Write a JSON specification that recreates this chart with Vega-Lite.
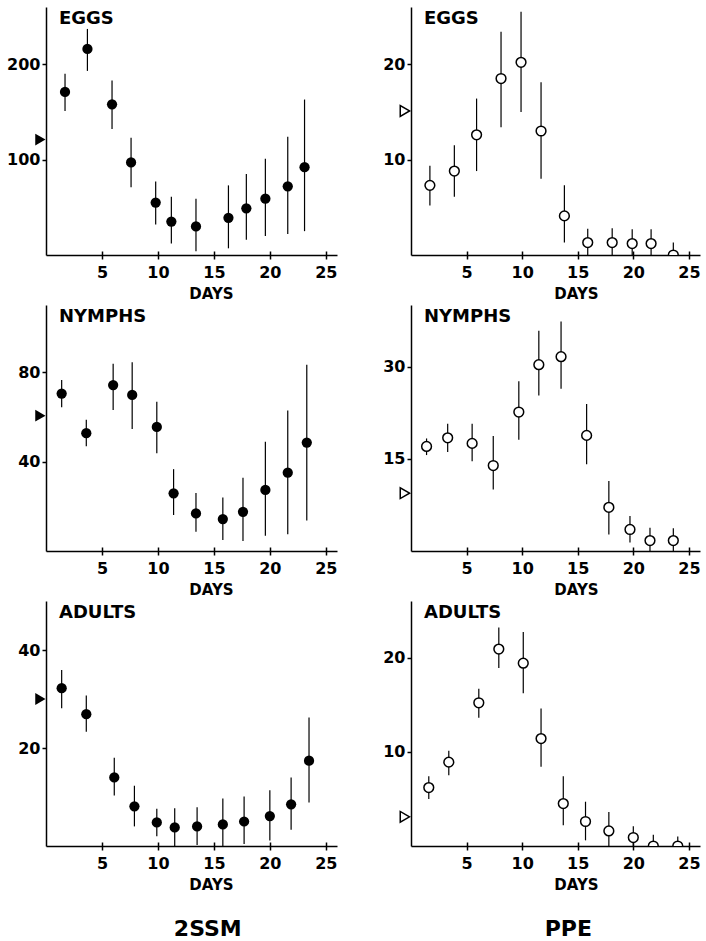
{
  "$schema": "https://vega.github.io/schema/vega-lite/v6.json",
  "padding": {"left": 6, "top": 7, "right": 0, "bottom": 0},
  "background": "white",
  "datasets": {
    "pts": [
      {"panel": "e2", "day": 1.7, "mean": 171, "lo": 151, "hi": 190},
      {"panel": "e2", "day": 3.7, "mean": 216, "lo": 193, "hi": 237},
      {"panel": "e2", "day": 5.9, "mean": 158, "lo": 132, "hi": 183},
      {"panel": "e2", "day": 7.6, "mean": 97, "lo": 71, "hi": 123},
      {"panel": "e2", "day": 9.8, "mean": 55, "lo": 32, "hi": 77},
      {"panel": "e2", "day": 11.2, "mean": 35, "lo": 12, "hi": 61},
      {"panel": "e2", "day": 13.4, "mean": 30, "lo": 4, "hi": 59},
      {"panel": "e2", "day": 16.3, "mean": 39, "lo": 7, "hi": 73},
      {"panel": "e2", "day": 17.9, "mean": 49, "lo": 16, "hi": 85},
      {"panel": "e2", "day": 19.6, "mean": 59, "lo": 20, "hi": 101},
      {"panel": "e2", "day": 21.6, "mean": 72, "lo": 22, "hi": 124},
      {"panel": "e2", "day": 23.1, "mean": 92, "lo": 25, "hi": 163},
      {"panel": "ep", "day": 1.7, "mean": 7.3, "lo": 5.2, "hi": 9.35},
      {"panel": "ep", "day": 3.9, "mean": 8.8, "lo": 6.1, "hi": 11.5},
      {"panel": "ep", "day": 5.9, "mean": 12.6, "lo": 8.8, "hi": 16.4},
      {"panel": "ep", "day": 8.1, "mean": 18.5, "lo": 13.4, "hi": 23.4},
      {"panel": "ep", "day": 9.9, "mean": 20.2, "lo": 15, "hi": 25.5},
      {"panel": "ep", "day": 11.7, "mean": 13, "lo": 8, "hi": 18.1},
      {"panel": "ep", "day": 13.8, "mean": 4.1, "lo": 1.3, "hi": 7.3},
      {"panel": "ep", "day": 15.9, "mean": 1.3, "lo": 0, "hi": 2.75},
      {"panel": "ep", "day": 18.1, "mean": 1.3, "lo": 0, "hi": 2.8},
      {"panel": "ep", "day": 19.9, "mean": 1.2, "lo": 0, "hi": 2.7},
      {"panel": "ep", "day": 21.6, "mean": 1.2, "lo": 0, "hi": 2.7},
      {"panel": "ep", "day": 23.6, "mean": 0, "lo": 0, "hi": 1.3},
      {"panel": "n2", "day": 1.4, "mean": 70.4, "lo": 64.3, "hi": 76.5},
      {"panel": "n2", "day": 3.6, "mean": 52.7, "lo": 46.8, "hi": 58.7},
      {"panel": "n2", "day": 6.0, "mean": 74.2, "lo": 63, "hi": 83.7},
      {"panel": "n2", "day": 7.7, "mean": 69.8, "lo": 54.6, "hi": 84.4},
      {"panel": "n2", "day": 9.9, "mean": 55.5, "lo": 43.7, "hi": 66.7},
      {"panel": "n2", "day": 11.4, "mean": 25.8, "lo": 16.1, "hi": 36.6},
      {"panel": "n2", "day": 13.4, "mean": 16.8, "lo": 8.6, "hi": 25.9},
      {"panel": "n2", "day": 15.8, "mean": 14.3, "lo": 4.9, "hi": 23.9},
      {"panel": "n2", "day": 17.6, "mean": 17.5, "lo": 4.5, "hi": 32.8},
      {"panel": "n2", "day": 19.6, "mean": 27.3, "lo": 6.8, "hi": 48.9},
      {"panel": "n2", "day": 21.6, "mean": 35, "lo": 7.5, "hi": 62.8},
      {"panel": "n2", "day": 23.3, "mean": 48.5, "lo": 13.6, "hi": 83.3},
      {"panel": "np", "day": 1.4, "mean": 17.0, "lo": 15.6, "hi": 18.3},
      {"panel": "np", "day": 3.3, "mean": 18.4, "lo": 16.1, "hi": 20.7},
      {"panel": "np", "day": 5.5, "mean": 17.5, "lo": 14.6, "hi": 20.7},
      {"panel": "np", "day": 7.4, "mean": 13.9, "lo": 10.0, "hi": 18.7},
      {"panel": "np", "day": 9.7, "mean": 22.6, "lo": 18.1, "hi": 27.6},
      {"panel": "np", "day": 11.5, "mean": 30.3, "lo": 25.3, "hi": 35.8},
      {"panel": "np", "day": 13.5, "mean": 31.6, "lo": 26.4, "hi": 37.3},
      {"panel": "np", "day": 15.8, "mean": 18.8, "lo": 14.1, "hi": 23.9},
      {"panel": "np", "day": 17.8, "mean": 7.1, "lo": 2.7, "hi": 11.4},
      {"panel": "np", "day": 19.7, "mean": 3.5, "lo": 1.4, "hi": 5.7},
      {"panel": "np", "day": 21.5, "mean": 1.7, "lo": 0, "hi": 3.8},
      {"panel": "np", "day": 23.6, "mean": 1.7, "lo": 0, "hi": 3.7},
      {"panel": "a2", "day": 1.4, "mean": 32.2, "lo": 28.1, "hi": 35.9},
      {"panel": "a2", "day": 3.6, "mean": 26.9, "lo": 23.3, "hi": 30.7},
      {"panel": "a2", "day": 6.1, "mean": 14.0, "lo": 10.3, "hi": 18.0},
      {"panel": "a2", "day": 7.9, "mean": 8.1, "lo": 4.0, "hi": 12.3},
      {"panel": "a2", "day": 9.9, "mean": 4.8, "lo": 2.0, "hi": 7.6},
      {"panel": "a2", "day": 11.5, "mean": 3.8, "lo": 0, "hi": 7.7},
      {"panel": "a2", "day": 13.5, "mean": 4.0, "lo": 0.2, "hi": 7.9},
      {"panel": "a2", "day": 15.8, "mean": 4.4, "lo": 0, "hi": 9.7},
      {"panel": "a2", "day": 17.7, "mean": 5.0, "lo": 0.4, "hi": 10.1},
      {"panel": "a2", "day": 20.0, "mean": 6.1, "lo": 1.1, "hi": 11.4},
      {"panel": "a2", "day": 21.9, "mean": 8.5, "lo": 3.3, "hi": 14.0},
      {"panel": "a2", "day": 23.5, "mean": 17.4, "lo": 8.9, "hi": 26.2},
      {"panel": "ap", "day": 1.6, "mean": 6.2, "lo": 5.0, "hi": 7.4},
      {"panel": "ap", "day": 3.4, "mean": 8.9, "lo": 7.5, "hi": 10.1},
      {"panel": "ap", "day": 6.1, "mean": 15.2, "lo": 13.6, "hi": 16.7},
      {"panel": "ap", "day": 7.9, "mean": 20.9, "lo": 18.9, "hi": 23.2},
      {"panel": "ap", "day": 10.1, "mean": 19.4, "lo": 16.2, "hi": 22.7},
      {"panel": "ap", "day": 11.7, "mean": 11.4, "lo": 8.4, "hi": 14.6},
      {"panel": "ap", "day": 13.7, "mean": 4.5, "lo": 2.2, "hi": 7.4},
      {"panel": "ap", "day": 15.7, "mean": 2.6, "lo": 0.6, "hi": 4.7},
      {"panel": "ap", "day": 17.8, "mean": 1.6, "lo": 0, "hi": 3.6},
      {"panel": "ap", "day": 20.0, "mean": 0.9, "lo": 0, "hi": 2.1},
      {"panel": "ap", "day": 21.8, "mean": 0, "lo": 0, "hi": 1.2},
      {"panel": "ap", "day": 24.0, "mean": 0, "lo": 0, "hi": 1.0}
    ],
    "refs": [
      {"panel": "e2", "ref": 121},
      {"panel": "ep", "ref": 15.1},
      {"panel": "n2", "ref": 60.5},
      {"panel": "np", "ref": 9.4},
      {"panel": "a2", "ref": 30},
      {"panel": "ap", "ref": 3.1}
    ]
  },
  "hconcat": [
    {
      "title": {"text": "2SSM", "orient": "bottom", "anchor": "middle", "frame": "bounds", "dx": 36, "offset": 27, "fontSize": 22},
      "spacing": 50,
      "bounds": "flush",
      "vconcat": [
        {
          "width": 291, "height": 248,
          "title": {"text": "EGGS"},
          "resolve": {"axis": {"x": "independent"}},
          "layer": [
            {"data": {"name": "pts"}, "transform": [{"filter": "datum.panel == 'e2'"}],
             "mark": {"type": "rule", "color": "black", "strokeWidth": 1.2},
             "encoding": {
               "x": {"field": "day", "type": "quantitative", "scale": {"domain": [0, 25.5]}, "axis": {"values": [5, 10, 15, 20, 25], "title": "DAYS"}},
               "y": {"field": "lo", "type": "quantitative", "scale": {"domain": [0, 255]}, "axis": {"values": [100, 200], "title": null, "orient": "left"}},
               "y2": {"field": "hi"}}},
            {"data": {"name": "pts"}, "transform": [{"filter": "datum.panel == 'e2'"}],
             "mark": {"type": "point", "shape": "circle", "filled": true, "color": "black", "opacity": 1, "size": 105, "clip": true},
             "encoding": {"x": {"field": "day", "type": "quantitative", "axis": {"orient": "bottom", "values": [5, 10, 15, 20, 25], "tickSize": -4, "labels": false, "domain": false, "title": null}}, "y": {"field": "mean", "type": "quantitative"}}},
            {"data": {"name": "refs"}, "transform": [{"filter": "datum.panel == 'e2'"}],
             "mark": {"type": "point", "shape": "triangle-right", "filled": true, "color": "black", "opacity": 1, "size": 140},
             "encoding": {"x": {"datum": -0.5, "type": "quantitative", "axis": null}, "y": {"field": "ref", "type": "quantitative"}}}
          ]
        },
        {
          "width": 291, "height": 246,
          "title": {"text": "NYMPHS"},
          "resolve": {"axis": {"x": "independent"}},
          "layer": [
            {"data": {"name": "pts"}, "transform": [{"filter": "datum.panel == 'n2'"}],
             "mark": {"type": "rule", "color": "black", "strokeWidth": 1.2},
             "encoding": {
               "x": {"field": "day", "type": "quantitative", "scale": {"domain": [0, 25.5]}, "axis": {"values": [5, 10, 15, 20, 25], "title": "DAYS"}},
               "y": {"field": "lo", "type": "quantitative", "scale": {"domain": [0, 100.8]}, "axis": {"values": [40, 80], "title": null, "orient": "left"}},
               "y2": {"field": "hi"}}},
            {"data": {"name": "pts"}, "transform": [{"filter": "datum.panel == 'n2'"}],
             "mark": {"type": "point", "shape": "circle", "filled": true, "color": "black", "opacity": 1, "size": 105, "clip": true},
             "encoding": {"x": {"field": "day", "type": "quantitative", "axis": {"orient": "bottom", "values": [5, 10, 15, 20, 25], "tickSize": -4, "labels": false, "domain": false, "title": null}}, "y": {"field": "mean", "type": "quantitative"}}},
            {"data": {"name": "refs"}, "transform": [{"filter": "datum.panel == 'n2'"}],
             "mark": {"type": "point", "shape": "triangle-right", "filled": true, "color": "black", "opacity": 1, "size": 140},
             "encoding": {"x": {"datum": -0.5, "type": "quantitative", "axis": null}, "y": {"field": "ref", "type": "quantitative"}}}
          ]
        },
        {
          "width": 291, "height": 245,
          "title": {"text": "ADULTS"},
          "resolve": {"axis": {"x": "independent"}},
          "layer": [
            {"data": {"name": "pts"}, "transform": [{"filter": "datum.panel == 'a2'"}],
             "mark": {"type": "rule", "color": "black", "strokeWidth": 1.2},
             "encoding": {
               "x": {"field": "day", "type": "quantitative", "scale": {"domain": [0, 25.5]}, "axis": {"values": [5, 10, 15, 20, 25], "title": "DAYS"}},
               "y": {"field": "lo", "type": "quantitative", "scale": {"domain": [0, 49.6]}, "axis": {"values": [20, 40], "title": null, "orient": "left"}},
               "y2": {"field": "hi"}}},
            {"data": {"name": "pts"}, "transform": [{"filter": "datum.panel == 'a2'"}],
             "mark": {"type": "point", "shape": "circle", "filled": true, "color": "black", "opacity": 1, "size": 105, "clip": true},
             "encoding": {"x": {"field": "day", "type": "quantitative", "axis": {"orient": "bottom", "values": [5, 10, 15, 20, 25], "tickSize": -4, "labels": false, "domain": false, "title": null}}, "y": {"field": "mean", "type": "quantitative"}}},
            {"data": {"name": "refs"}, "transform": [{"filter": "datum.panel == 'a2'"}],
             "mark": {"type": "point", "shape": "triangle-right", "filled": true, "color": "black", "opacity": 1, "size": 140},
             "encoding": {"x": {"datum": -0.5, "type": "quantitative", "axis": null}, "y": {"field": "ref", "type": "quantitative"}}}
          ]
        }
      ]
    },
    {
      "title": {"text": "PPE", "orient": "bottom", "anchor": "middle", "frame": "bounds", "dx": 27, "offset": 27, "fontSize": 22},
      "spacing": 50,
      "bounds": "flush",
      "vconcat": [
        {
          "width": 289, "height": 248,
          "title": {"text": "EGGS"},
          "resolve": {"axis": {"x": "independent"}},
          "layer": [
            {"data": {"name": "pts"}, "transform": [{"filter": "datum.panel == 'ep'"}],
             "mark": {"type": "rule", "color": "black", "strokeWidth": 1.2},
             "encoding": {
               "x": {"field": "day", "type": "quantitative", "scale": {"domain": [0, 25.5]}, "axis": {"values": [5, 10, 15, 20, 25], "title": "DAYS"}},
               "y": {"field": "lo", "type": "quantitative", "scale": {"domain": [0, 25.6]}, "axis": {"values": [10, 20], "title": null, "orient": "left"}},
               "y2": {"field": "hi"}}},
            {"data": {"name": "pts"}, "transform": [{"filter": "datum.panel == 'ep'"}],
             "mark": {"type": "point", "shape": "circle", "filled": true, "fill": "white", "stroke": "black", "strokeWidth": 1.5, "opacity": 1, "size": 95, "clip": true},
             "encoding": {"x": {"field": "day", "type": "quantitative", "axis": {"orient": "bottom", "values": [5, 10, 15, 20, 25], "tickSize": -4, "labels": false, "domain": false, "title": null}}, "y": {"field": "mean", "type": "quantitative"}}},
            {"data": {"name": "refs"}, "transform": [{"filter": "datum.panel == 'ep'"}],
             "mark": {"type": "point", "shape": "triangle-right", "filled": true, "fill": "white", "stroke": "black", "strokeWidth": 1.5, "opacity": 1, "size": 115},
             "encoding": {"x": {"datum": -0.55, "type": "quantitative", "axis": null}, "y": {"field": "ref", "type": "quantitative"}}}
          ]
        },
        {
          "width": 289, "height": 246,
          "title": {"text": "NYMPHS"},
          "resolve": {"axis": {"x": "independent"}},
          "layer": [
            {"data": {"name": "pts"}, "transform": [{"filter": "datum.panel == 'np'"}],
             "mark": {"type": "rule", "color": "black", "strokeWidth": 1.2},
             "encoding": {
               "x": {"field": "day", "type": "quantitative", "scale": {"domain": [0, 25.5]}, "axis": {"values": [5, 10, 15, 20, 25], "title": "DAYS"}},
               "y": {"field": "lo", "type": "quantitative", "scale": {"domain": [0, 38.5]}, "axis": {"values": [15, 30], "title": null, "orient": "left"}},
               "y2": {"field": "hi"}}},
            {"data": {"name": "pts"}, "transform": [{"filter": "datum.panel == 'np'"}],
             "mark": {"type": "point", "shape": "circle", "filled": true, "fill": "white", "stroke": "black", "strokeWidth": 1.5, "opacity": 1, "size": 95, "clip": true},
             "encoding": {"x": {"field": "day", "type": "quantitative", "axis": {"orient": "bottom", "values": [5, 10, 15, 20, 25], "tickSize": -4, "labels": false, "domain": false, "title": null}}, "y": {"field": "mean", "type": "quantitative"}}},
            {"data": {"name": "refs"}, "transform": [{"filter": "datum.panel == 'np'"}],
             "mark": {"type": "point", "shape": "triangle-right", "filled": true, "fill": "white", "stroke": "black", "strokeWidth": 1.5, "opacity": 1, "size": 115},
             "encoding": {"x": {"datum": -0.55, "type": "quantitative", "axis": null}, "y": {"field": "ref", "type": "quantitative"}}}
          ]
        },
        {
          "width": 289, "height": 245,
          "title": {"text": "ADULTS"},
          "resolve": {"axis": {"x": "independent"}},
          "layer": [
            {"data": {"name": "pts"}, "transform": [{"filter": "datum.panel == 'ap'"}],
             "mark": {"type": "rule", "color": "black", "strokeWidth": 1.2},
             "encoding": {
               "x": {"field": "day", "type": "quantitative", "scale": {"domain": [0, 25.5]}, "axis": {"values": [5, 10, 15, 20, 25], "title": "DAYS"}},
               "y": {"field": "lo", "type": "quantitative", "scale": {"domain": [0, 25.2]}, "axis": {"values": [10, 20], "title": null, "orient": "left"}},
               "y2": {"field": "hi"}}},
            {"data": {"name": "pts"}, "transform": [{"filter": "datum.panel == 'ap'"}],
             "mark": {"type": "point", "shape": "circle", "filled": true, "fill": "white", "stroke": "black", "strokeWidth": 1.5, "opacity": 1, "size": 95, "clip": true},
             "encoding": {"x": {"field": "day", "type": "quantitative", "axis": {"orient": "bottom", "values": [5, 10, 15, 20, 25], "tickSize": -4, "labels": false, "domain": false, "title": null}}, "y": {"field": "mean", "type": "quantitative"}}},
            {"data": {"name": "refs"}, "transform": [{"filter": "datum.panel == 'ap'"}],
             "mark": {"type": "point", "shape": "triangle-right", "filled": true, "fill": "white", "stroke": "black", "strokeWidth": 1.5, "opacity": 1, "size": 115},
             "encoding": {"x": {"datum": -0.55, "type": "quantitative", "axis": null}, "y": {"field": "ref", "type": "quantitative"}}}
          ]
        }
      ]
    }
  ],
  "spacing": 45,
  "config": {
    "view": {"stroke": null},
    "font": "DejaVu Sans",
    "axis": {
      "grid": false,
      "domainColor": "black", "domainWidth": 1.5,
      "tickColor": "black", "tickWidth": 1.5, "tickSize": 4,
      "labelFont": "DejaVu Sans", "labelFontWeight": "bold", "labelFontSize": 16, "labelColor": "black",
      "titleFont": "DejaVu Sans", "titleFontWeight": "bold", "titleFontSize": 15, "titleColor": "black"
    },
    "axisX": {"labelPadding": 5, "labelFlush": false, "titleX": 165, "titleY": 43, "titleBaseline": "alphabetic", "titleAnchor": null},
    "axisY": {"labelPadding": 2},
    "title": {
      "anchor": "start", "frame": "group", "orient": "top", "offset": -21, "dx": 13,
      "font": "DejaVu Sans", "fontWeight": "bold", "fontSize": 18, "color": "black", "baseline": "alphabetic"
    }
  }
}
